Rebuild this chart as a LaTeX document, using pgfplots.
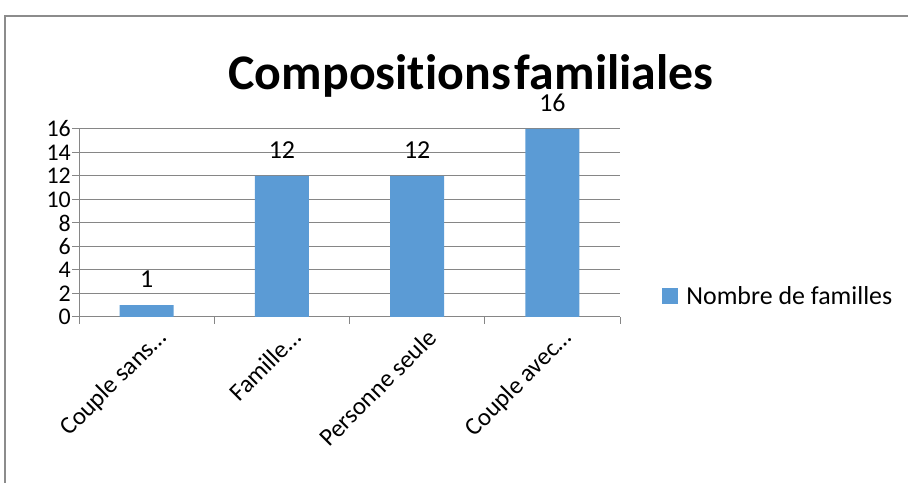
\documentclass[border=0pt]{standalone}
\usepackage{pgfplots}
\pgfplotsset{compat=1.18}
\usepackage{fontspec}
\setmainfont{Carlito}[Ligatures=CommonOff]
\definecolor{barblue}{HTML}{5B9BD5}
\definecolor{gridgray}{HTML}{868686}
\definecolor{framegray}{HTML}{8C8C8C}
\begin{document}
\begin{tikzpicture}[x=1bp,y=1bp]
\useasboundingbox (0,0) rectangle (908,483);
\draw[framegray, line width=1.5bp] (5,-5) -- (5,467) -- (915,467);
\node[font=\fontsize{50}{50}\bfseries\selectfont, anchor=base] at (471,393) {Compositions\hspace{4bp}familiales};
\begin{axis}[
  at={(79bp,166bp)}, anchor=south west,
  scale only axis, width=541bp, height=188bp,
  xmin=-0.5, xmax=3.5, ymin=0, ymax=16,
  ybar, bar width=54bp,
  axis x line*=bottom, axis y line*=left,
  axis line style={gridgray, line width=1bp},
  ytick={0,2,...,16}, ymajorgrids,
  grid style={gridgray, line width=1bp},
  tick align=outside, major tick length=7bp,
  tick style={gridgray, line width=1bp},
  xtick={-0.5,0.5,1.5,2.5,3.5},
  x tick label as interval=true,
  xticklabels={Couple sans…, Famille…, Personne seule, Couple avec…},
  x tick label style={font=\fontsize{25}{25}\selectfont, rotate=45, anchor=north east, inner sep=2bp, xshift=6bp, yshift=-6bp},
  y tick label style={font=\fontsize{24}{24}\selectfont, inner sep=1bp},
  /pgf/number format/assume math mode=true,
  nodes near coords,
  every node near coord/.append style={font=\fontsize{26}{26}\selectfont, black, anchor=center, yshift=26bp},
  legend style={at={(1.078,0.112)}, anchor=west, draw=none, font=\fontsize{26}{26}\selectfont, inner sep=0pt},
  legend image code/.code={\fill[barblue] (0bp,-8bp) rectangle (16bp,8bp);},
]
\addplot[fill=barblue, draw=none] coordinates {(0,1) (1,12) (2,12) (3,16)};
\addlegendentry{\hspace{6bp}Nombre de familles}
\end{axis}
\end{tikzpicture}
\end{document}
